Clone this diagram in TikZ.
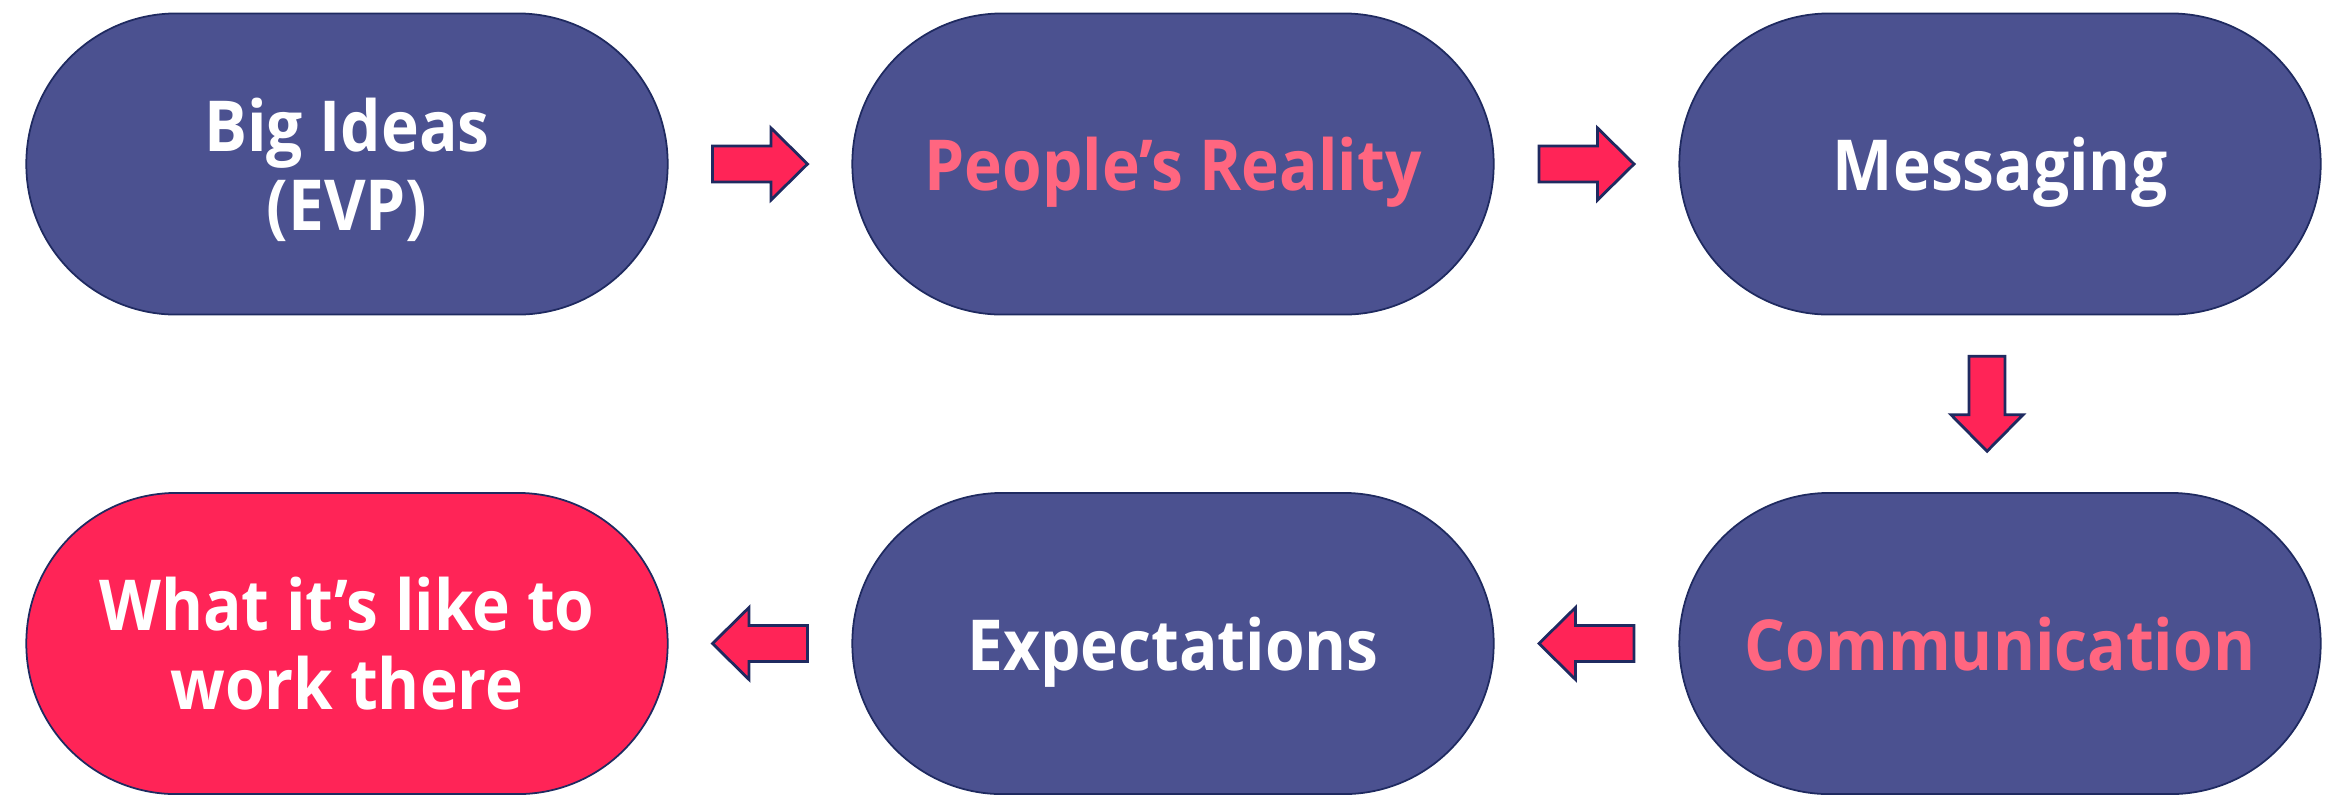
\documentclass[tikz,border=0pt]{standalone}
\usepackage{fontspec}
\setmainfont{Open Sans}[BoldFeatures={FakeStretch=0.91}]
\usetikzlibrary{calc}
\definecolor{slate}{HTML}{4B5190}
\definecolor{hotpink}{HTML}{FF2457}
\definecolor{softpink}{HTML}{FF6680}
\definecolor{navy}{HTML}{1F2A60}
\tikzset{
  pill/.style={draw=navy, line width=0.5pt, fill=slate, text=white,
    minimum width=6.41cm, minimum height=3.01cm, rounded corners=1.5cm,
    inner sep=0pt, align=center, text depth=0pt,
    font=\bfseries\fontsize{20}{22.5}\selectfont},
  pinktext/.style={text=softpink},
  pinkfill/.style={fill=hotpink},
  arrowstyle/.style={draw=navy, fill=hotpink, line width=0.8pt, line join=miter},
  blockarrow/.pic={\draw[arrowstyle] (-47.5,-18) -- (11,-18) -- (11,-36) -- (47.5,0)
    -- (11,36) -- (11,18) -- (-47.5,18) -- cycle;}
}
\begin{document}
\begin{tikzpicture}[x=0.01cm, y=-0.01cm]
\useasboundingbox (0,0) rectangle (2325,796);
% top row
\node[pill] (big) at (347,164) {Big Ideas\\(EVP)};
\node[pill, pinktext] (reality) at (1173,164) {People’s Reality};
\node[pill] (msg) at (2000,164) {Messaging};
% bottom row
\node[pill, pinkfill] (work) at (347,643.5) {What it’s like to\\work there};
\node[pill] (expect) at (1173,643.5) {Expectations};
\node[pill, pinktext] (comm) at (2000,643.5) {Communication};
% block arrows between the stages
\coordinate (a1) at ($(big.east)!0.5!(reality.west)$);
\coordinate (a2) at ($(reality.east)!0.5!(msg.west)$);
\coordinate (a3) at ($($(msg.south)!0.5!(comm.north)$)+(-13,0)$);
\coordinate (a4) at ($(comm.west)!0.5!(expect.east)$);
\coordinate (a5) at ($(expect.west)!0.5!(work.east)$);
\pic at (a1) {blockarrow};
\pic at (a2) {blockarrow};
\pic[rotate=-90] at (a3) {blockarrow};
\pic[rotate=180] at (a4) {blockarrow};
\pic[rotate=180] at (a5) {blockarrow};
\end{tikzpicture}
\end{document}
